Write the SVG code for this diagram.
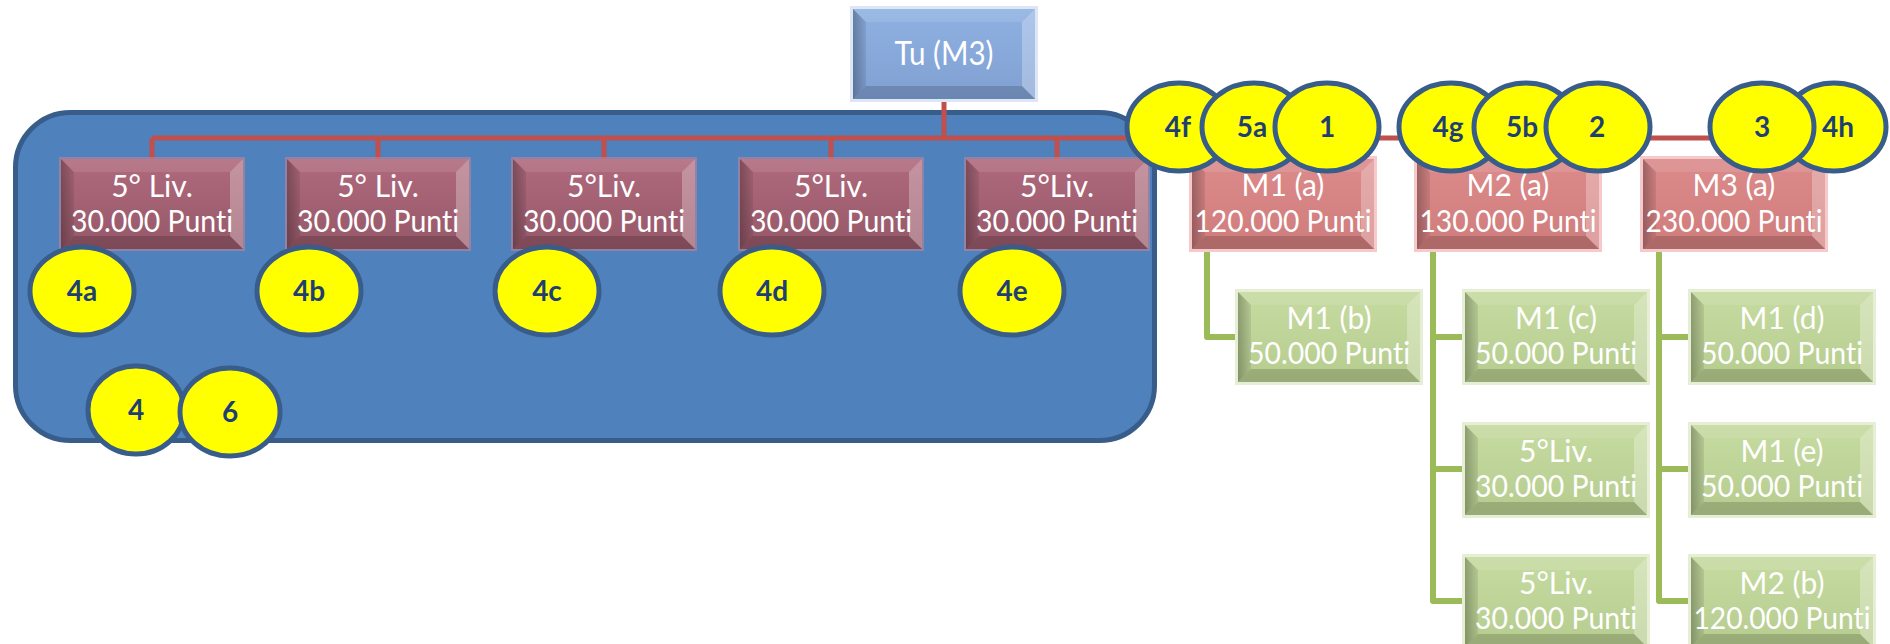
<svg xmlns="http://www.w3.org/2000/svg" xmlns:xlink="http://www.w3.org/1999/xlink" width="1890" height="644" viewBox="0 0 1890 644">
<style>
text{font-variant-ligatures:none;font-feature-settings:"liga" 0,"clig" 0}
.lbl{font-family:Lato,"Liberation Sans",sans-serif;font-size:30px;fill:#ffffff;text-anchor:middle}
.tu{font-size:33px}
.ell{fill:#ffff00;stroke:#385d8a;stroke-width:5}
.num{font-family:Lato,"Liberation Sans",sans-serif;font-weight:bold;font-size:28px;fill:#1f3f73;text-anchor:middle}
.red{fill:none;stroke:#c0504d;stroke-width:5}
.grn{fill:none;stroke:#9bbb59;stroke-width:6;stroke-linejoin:round;stroke-linecap:butt}
.gm{fill:#c98595;opacity:.55}
.gs{fill:#f6caca}
.gg{fill:#e6efd6}
.gb{fill:#dce6f4}
.bm{fill:url(#fm)}
.bs{fill:url(#fs)}
.bg{fill:url(#fg)}
.bb{fill:url(#fb)}
</style>
<defs>
<linearGradient id="fm" x1="0" y1="0" x2="0" y2="1"><stop offset="0" stop-color="#b06a7d"/><stop offset="1" stop-color="#955868"/></linearGradient>
<linearGradient id="fs" x1="0" y1="0" x2="0" y2="1"><stop offset="0" stop-color="#dc8a8a"/><stop offset="1" stop-color="#cf7c7c"/></linearGradient>
<linearGradient id="fg" x1="0" y1="0" x2="0" y2="1"><stop offset="0" stop-color="#c6dba0"/><stop offset="1" stop-color="#b6cc8f"/></linearGradient>
<linearGradient id="fb" x1="0" y1="0" x2="0" y2="1"><stop offset="0" stop-color="#8fb1e2"/><stop offset="1" stop-color="#80a0d2"/></linearGradient>
<linearGradient id="lft" x1="0" y1="0" x2="1" y2="0"><stop offset="0" stop-color="#000" stop-opacity=".28"/><stop offset="1" stop-color="#000" stop-opacity=".08"/></linearGradient>
<g id="bev">
<path d="M0,0 L13,13 L13,77 L0,90Z" fill="url(#lft)"/>
<path d="M0,0 L182,0 L169,13 L13,13Z" fill="#fff" fill-opacity=".1"/>
<path d="M182,0 L182,90 L169,77 L169,13Z" fill="#fff" fill-opacity=".28"/>
<path d="M0,90 L13,77 L169,77 L182,90Z" fill="#000" fill-opacity=".16"/>
</g>
</defs>
<rect width="1890" height="644" fill="#ffffff"/>
<rect id="region" x="15.5" y="112.5" width="1139" height="328" rx="55" ry="55" fill="#4f81bd" stroke="#385d8a" stroke-width="5"/>
<g id="connectors">
<path class="red" d="M944,98 V138 M152,138 H1734 M152,138 V159 M378,138 V159 M604,138 V159 M831,138 V159 M1057,138 V159 M1283,138 V159 M1508,138 V159 M1734,138 V159"/>
<path class="grn" d="M1207,250 V337 H1238"/>
<path class="grn" d="M1433,250 V601 H1465 M1433,337 H1465 M1433,469 H1465"/>
<path class="grn" d="M1659,250 V601 H1691 M1659,337 H1691 M1659,469 H1691"/>
</g>
<g id="n-tu" transform="translate(853,9)"><rect class="gb" x="-3" y="-3" width="188" height="96"/><rect class="bb" width="182" height="90"/><use href="#bev"/><text class="lbl tu" x="91" y="56" textLength="99" lengthAdjust="spacingAndGlyphs">Tu (M3)</text></g>
<g id="n-l1" transform="translate(61,159)"><rect class="gm" x="-2" y="-2" width="186" height="94"/><rect class="bm" width="182" height="90"/><use href="#bev"/><text class="lbl" x="91" y="38">5° Liv.</text><text class="lbl" x="91" y="73" textLength="162" lengthAdjust="spacingAndGlyphs">30.000 Punti</text></g>
<g id="n-l2" transform="translate(287,159)"><rect class="gm" x="-2" y="-2" width="186" height="94"/><rect class="bm" width="182" height="90"/><use href="#bev"/><text class="lbl" x="91" y="38">5° Liv.</text><text class="lbl" x="91" y="73" textLength="162" lengthAdjust="spacingAndGlyphs">30.000 Punti</text></g>
<g id="n-l3" transform="translate(513,159)"><rect class="gm" x="-2" y="-2" width="186" height="94"/><rect class="bm" width="182" height="90"/><use href="#bev"/><text class="lbl" x="91" y="38">5°Liv.</text><text class="lbl" x="91" y="73" textLength="162" lengthAdjust="spacingAndGlyphs">30.000 Punti</text></g>
<g id="n-l4" transform="translate(740,159)"><rect class="gm" x="-2" y="-2" width="186" height="94"/><rect class="bm" width="182" height="90"/><use href="#bev"/><text class="lbl" x="91" y="38">5°Liv.</text><text class="lbl" x="91" y="73" textLength="162" lengthAdjust="spacingAndGlyphs">30.000 Punti</text></g>
<g id="n-l5" transform="translate(966,159)"><rect class="gm" x="-2" y="-2" width="186" height="94"/><rect class="bm" width="182" height="90"/><use href="#bev"/><text class="lbl" x="91" y="38">5°Liv.</text><text class="lbl" x="91" y="73" textLength="162" lengthAdjust="spacingAndGlyphs">30.000 Punti</text></g>
<g id="n-m1a" transform="translate(1192,159)"><rect class="gs" x="-3" y="-3" width="188" height="96"/><rect class="bs" width="182" height="90"/><use href="#bev"/><text class="lbl" x="91" y="37">M1 (a)</text><text class="lbl" x="91" y="73" textLength="177" lengthAdjust="spacingAndGlyphs">120.000 Punti</text></g>
<g id="n-m2a" transform="translate(1417,159)"><rect class="gs" x="-3" y="-3" width="188" height="96"/><rect class="bs" width="182" height="90"/><use href="#bev"/><text class="lbl" x="91" y="37">M2 (a)</text><text class="lbl" x="91" y="73" textLength="177" lengthAdjust="spacingAndGlyphs">130.000 Punti</text></g>
<g id="n-m3a" transform="translate(1643,159)"><rect class="gs" x="-3" y="-3" width="188" height="96"/><rect class="bs" width="182" height="90"/><use href="#bev"/><text class="lbl" x="91" y="37">M3 (a)</text><text class="lbl" x="91" y="73" textLength="177" lengthAdjust="spacingAndGlyphs">230.000 Punti</text></g>
<g id="n-m1b" transform="translate(1238,292)"><rect class="gg" x="-3" y="-3" width="188" height="96"/><rect class="bg" width="182" height="90"/><use href="#bev"/><text class="lbl" x="91" y="37">M1 (b)</text><text class="lbl" x="91" y="72" textLength="162" lengthAdjust="spacingAndGlyphs">50.000 Punti</text></g>
<g id="n-m1c" transform="translate(1465,292)"><rect class="gg" x="-3" y="-3" width="188" height="96"/><rect class="bg" width="182" height="90"/><use href="#bev"/><text class="lbl" x="91" y="37">M1 (c)</text><text class="lbl" x="91" y="72" textLength="162" lengthAdjust="spacingAndGlyphs">50.000 Punti</text></g>
<g id="n-g1" transform="translate(1465,425)"><rect class="gg" x="-3" y="-3" width="188" height="96"/><rect class="bg" width="182" height="90"/><use href="#bev"/><text class="lbl" x="91" y="37">5°Liv.</text><text class="lbl" x="91" y="72" textLength="162" lengthAdjust="spacingAndGlyphs">30.000 Punti</text></g>
<g id="n-g2" transform="translate(1465,557)"><rect class="gg" x="-3" y="-3" width="188" height="96"/><rect class="bg" width="182" height="90"/><use href="#bev"/><text class="lbl" x="91" y="37">5°Liv.</text><text class="lbl" x="91" y="72" textLength="162" lengthAdjust="spacingAndGlyphs">30.000 Punti</text></g>
<g id="n-m1d" transform="translate(1691,292)"><rect class="gg" x="-3" y="-3" width="188" height="96"/><rect class="bg" width="182" height="90"/><use href="#bev"/><text class="lbl" x="91" y="37">M1 (d)</text><text class="lbl" x="91" y="72" textLength="162" lengthAdjust="spacingAndGlyphs">50.000 Punti</text></g>
<g id="n-m1e" transform="translate(1691,425)"><rect class="gg" x="-3" y="-3" width="188" height="96"/><rect class="bg" width="182" height="90"/><use href="#bev"/><text class="lbl" x="91" y="37">M1 (e)</text><text class="lbl" x="91" y="72" textLength="162" lengthAdjust="spacingAndGlyphs">50.000 Punti</text></g>
<g id="n-m2b" transform="translate(1691,557)"><rect class="gg" x="-3" y="-3" width="188" height="96"/><rect class="bg" width="182" height="90"/><use href="#bev"/><text class="lbl" x="91" y="37">M2 (b)</text><text class="lbl" x="91" y="72" textLength="177" lengthAdjust="spacingAndGlyphs">120.000 Punti</text></g>
<g id="c-4a"><ellipse class="ell" cx="82" cy="291" rx="52" ry="44"/><text class="num" x="82" y="301">4a</text></g>
<g id="c-4b"><ellipse class="ell" cx="309" cy="291" rx="52" ry="44"/><text class="num" x="309" y="301">4b</text></g>
<g id="c-4c"><ellipse class="ell" cx="547" cy="291" rx="52" ry="44"/><text class="num" x="547" y="301">4c</text></g>
<g id="c-4d"><ellipse class="ell" cx="772" cy="291" rx="52" ry="44"/><text class="num" x="772" y="301">4d</text></g>
<g id="c-4e"><ellipse class="ell" cx="1012" cy="291" rx="52" ry="44"/><text class="num" x="1012" y="301">4e</text></g>
<g id="c-4"><ellipse class="ell" cx="136" cy="410" rx="48" ry="44"/><text class="num" x="136" y="420">4</text></g>
<g id="c-6"><ellipse class="ell" cx="230" cy="412" rx="50" ry="44"/><text class="num" x="230" y="422">6</text></g>
<g id="c-4f"><ellipse class="ell" cx="1179" cy="127" rx="52" ry="44"/><text class="num" x="1178" y="137">4f</text></g>
<g id="c-5a"><ellipse class="ell" cx="1254" cy="127" rx="52" ry="44"/><text class="num" x="1252" y="137">5a</text></g>
<g id="c-1"><ellipse class="ell" cx="1327" cy="127" rx="52" ry="44"/><text class="num" x="1327" y="137">1</text></g>
<g id="c-4g"><ellipse class="ell" cx="1451" cy="127" rx="52" ry="44"/><text class="num" x="1448" y="137">4g</text></g>
<g id="c-5b"><ellipse class="ell" cx="1526" cy="127" rx="52" ry="44"/><text class="num" x="1522" y="137">5b</text></g>
<g id="c-2"><ellipse class="ell" cx="1598" cy="127" rx="52" ry="44"/><text class="num" x="1597" y="137">2</text></g>
<g id="c-4h"><ellipse class="ell" cx="1834" cy="127" rx="52" ry="44"/><text class="num" x="1838" y="137">4h</text></g>
<g id="c-3"><ellipse class="ell" cx="1762" cy="127" rx="52" ry="44"/><text class="num" x="1762" y="137">3</text></g>
</svg>
